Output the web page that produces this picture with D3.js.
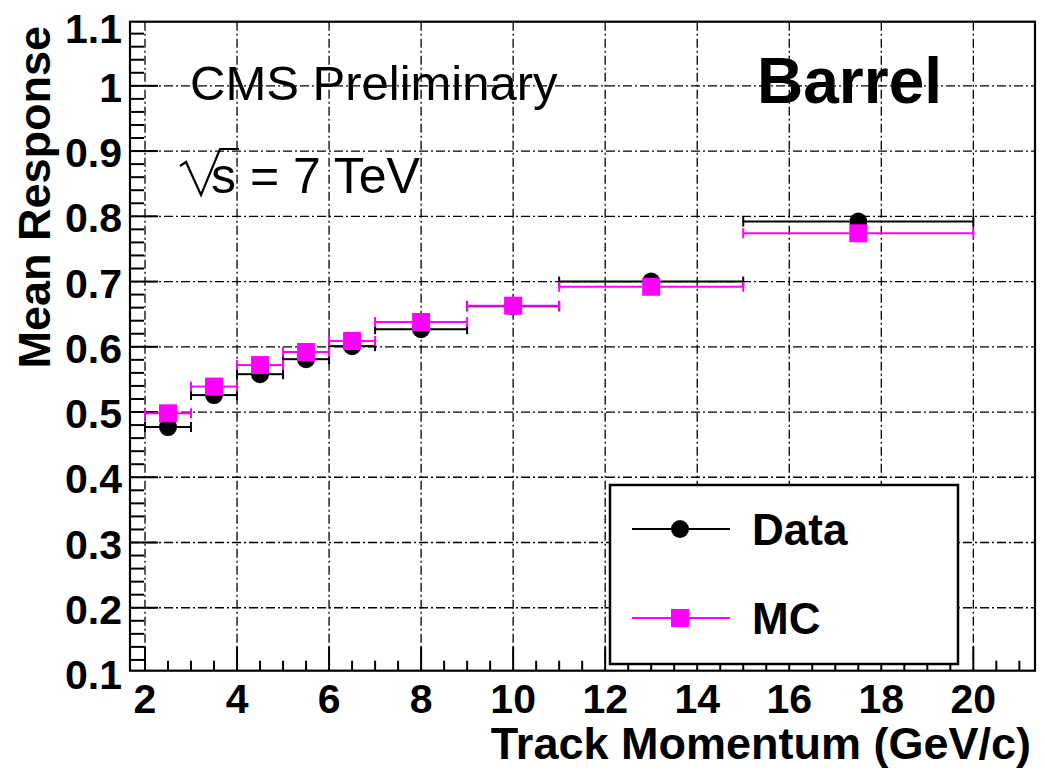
<!DOCTYPE html>
<html>
<head>
<meta charset="utf-8">
<script src="https://cdn.jsdelivr.net/npm/d3@7"></script>
<style>
  html, body { margin: 0; padding: 0; background: #fff; }
  svg { display: block; }
  text { font-family: "Liberation Sans", Arial, Helvetica, sans-serif; fill: #000; }
</style>
</head>
<body>
<svg id="chart" width="1045" height="770"></svg>
<script>
// ---- data ----
const binLow   = [2, 3, 4, 5, 6, 7, 9, 11, 15];
const binHigh  = [3, 4, 5, 6, 7, 9, 11, 15, 20];
const binCenter = [2.5, 3.5, 4.5, 5.5, 6.5, 8, 10, 13, 17.5];
const dataResponse = [0.477, 0.526, 0.558, 0.581, 0.601, 0.627, 0.662, 0.700, 0.792];
const mcResponse   = [0.498, 0.539, 0.572, 0.592, 0.609, 0.638, 0.663, 0.692, 0.774];
const xTicks = [2, 4, 6, 8, 10, 12, 14, 16, 18, 20];
const yTicks = [0.1, 0.2, 0.3, 0.4, 0.5, 0.6, 0.7, 0.8, 0.9, 1.0, 1.1];
const yTickLabels = ["0.1", "0.2", "0.3", "0.4", "0.5", "0.6", "0.7", "0.8", "0.9", "1", "1.1"];
const legendLabels = ["Data", "MC"];
const seriesColors = ["#000000", "#ff00ff"];

// ---- layout ----
const svg = d3.select("#chart");
const frame = { left: 130, right: 1035, top: 21.7, bottom: 670.7 };
const x = d3.scaleLinear().domain([1.674, 21.34]).range([frame.left, frame.right]);
const y = d3.scaleLinear().domain([0.1035, 1.0983]).range([frame.bottom, frame.top]);

const gridDash = "9,3,2,3";

// grid
const grid = svg.append("g");
grid.selectAll("line.vg").data(xTicks).enter().append("line")
  .attr("x1", d => x(d)).attr("x2", d => x(d))
  .attr("y1", frame.top).attr("y2", frame.bottom)
  .attr("stroke", "#000").attr("stroke-width", 1.3).attr("stroke-dasharray", gridDash);
grid.selectAll("line.hg").data(yTicks.filter(v => y(v) > frame.top + 1 && y(v) < frame.bottom - 1)).enter().append("line")
  .attr("x1", frame.left).attr("x2", frame.right)
  .attr("y1", d => y(d)).attr("y2", d => y(d))
  .attr("stroke", "#000").attr("stroke-width", 1.3).attr("stroke-dasharray", gridDash);

// ticks: x-axis (bottom, pointing up)
const xMinor = d3.range(2, 21.01, 0.5).filter(v => !xTicks.includes(v));
const ax = svg.append("g");
ax.selectAll("line.xmaj").data(xTicks).enter().append("line")
  .attr("x1", d => x(d)).attr("x2", d => x(d))
  .attr("y1", frame.bottom).attr("y2", frame.bottom - 24)
  .attr("stroke", "#000").attr("stroke-width", 2);
ax.selectAll("line.xmin").data(xMinor).enter().append("line")
  .attr("x1", d => x(d)).attr("x2", d => x(d))
  .attr("y1", frame.bottom).attr("y2", frame.bottom - 10)
  .attr("stroke", "#000").attr("stroke-width", 2);

// ticks: y-axis (left, pointing right)
const yMinor = d3.range(0, 56).map(i => +(0.1 + i * 0.02).toFixed(2))
  .filter(v => y(v) >= frame.top && y(v) <= frame.bottom && Math.abs(v * 10 - Math.round(v * 10)) > 1e-6);
ax.selectAll("line.ymaj").data(yTicks.filter(v => y(v) >= frame.top && y(v) <= frame.bottom)).enter().append("line")
  .attr("x1", frame.left).attr("x2", frame.left + 28)
  .attr("y1", d => y(d)).attr("y2", d => y(d))
  .attr("stroke", "#000").attr("stroke-width", 2);
ax.selectAll("line.ymin").data(yMinor).enter().append("line")
  .attr("x1", frame.left).attr("x2", frame.left + 14)
  .attr("y1", d => y(d)).attr("y2", d => y(d))
  .attr("stroke", "#000").attr("stroke-width", 2);

// frame
svg.append("rect")
  .attr("x", frame.left).attr("y", frame.top)
  .attr("width", frame.right - frame.left).attr("height", frame.bottom - frame.top)
  .attr("fill", "none").attr("stroke", "#000").attr("stroke-width", 2.2);

// tick labels
svg.append("g").selectAll("text").data(xTicks).enter().append("text")
  .attr("x", d => x(d)).attr("y", 713)
  .attr("text-anchor", "middle")
  .attr("font-size", 41).attr("font-weight", "bold")
  .text(d => d);
svg.append("g").selectAll("text").data(yTicks).enter().append("text")
  .attr("x", 122).attr("y", d => Math.max(y(d) + 16, 43))
  .attr("text-anchor", "end")
  .attr("font-size", 41).attr("font-weight", "bold")
  .text((d, i) => yTickLabels[i]);

// axis titles
svg.append("text")
  .attr("x", 1031).attr("y", 759)
  .attr("text-anchor", "end")
  .attr("font-size", 45).attr("font-weight", "bold")
  .text("Track Momentum (GeV/c)");
svg.append("text")
  .attr("transform", "translate(50,26) rotate(-90)")
  .attr("text-anchor", "end")
  .attr("font-size", 45).attr("font-weight", "bold")
  .text("Mean Response");

// series drawing
const half = 9, cap = 5;
function drawSeries(values, color, marker) {
  const g = svg.append("g");
  binCenter.forEach((c, i) => {
    const yy = y(values[i]);
    const xl = x(binLow[i]), xh = x(binHigh[i]), xc = x(c);
    // horizontal error bar with gap around marker
    g.append("line").attr("x1", xl).attr("x2", xc - half).attr("y1", yy).attr("y2", yy)
      .attr("stroke", color).attr("stroke-width", 2);
    g.append("line").attr("x1", xc + half).attr("x2", xh).attr("y1", yy).attr("y2", yy)
      .attr("stroke", color).attr("stroke-width", 2);
    // end caps
    [xl, xh].forEach(xe => {
      g.append("line").attr("x1", xe).attr("x2", xe).attr("y1", yy - cap).attr("y2", yy + cap)
        .attr("stroke", color).attr("stroke-width", 2);
    });
    if (marker === "circle") {
      g.append("circle").attr("cx", xc).attr("cy", yy).attr("r", half).attr("fill", color);
    } else {
      g.append("rect").attr("x", xc - half).attr("y", yy - half)
        .attr("width", 2 * half).attr("height", 2 * half).attr("fill", color);
    }
  });
}
drawSeries(dataResponse, seriesColors[0], "circle");
drawSeries(mcResponse, seriesColors[1], "square");

// legend
const leg = svg.append("g");
leg.append("rect").attr("x", 610).attr("y", 485).attr("width", 348).attr("height", 179)
  .attr("fill", "#fff").attr("stroke", "#000").attr("stroke-width", 2.5);
const legY = [529, 618];
legendLabels.forEach((lab, i) => {
  leg.append("line").attr("x1", 632).attr("x2", 730).attr("y1", legY[i]).attr("y2", legY[i])
    .attr("stroke", seriesColors[i]).attr("stroke-width", 2);
  if (i === 0) {
    leg.append("circle").attr("cx", 680).attr("cy", legY[i]).attr("r", half).attr("fill", seriesColors[i]);
  } else {
    leg.append("rect").attr("x", 680 - half).attr("y", legY[i] - half)
      .attr("width", 2 * half).attr("height", 2 * half).attr("fill", seriesColors[i]);
  }
  leg.append("text").attr("x", 752).attr("y", legY[i] + 16)
    .attr("font-size", 44).attr("font-weight", "bold").text(lab);
});

// annotations
svg.append("text").attr("x", 190).attr("y", 100)
  .attr("font-size", 49).text("CMS Preliminary");
svg.append("path")
  .attr("d", "M180,166 L186,162 L201,195 L220,149 L239,149")
  .attr("fill", "none").attr("stroke", "#000").attr("stroke-width", 2.2)
  .attr("stroke-linejoin", "miter");
svg.append("text").attr("x", 211).attr("y", 193)
  .attr("font-size", 50).text("s = 7 TeV");
svg.append("text").attr("x", 757).attr("y", 103)
  .attr("font-size", 64).attr("font-weight", "bold").text("Barrel");
</script>
</body>
</html>
